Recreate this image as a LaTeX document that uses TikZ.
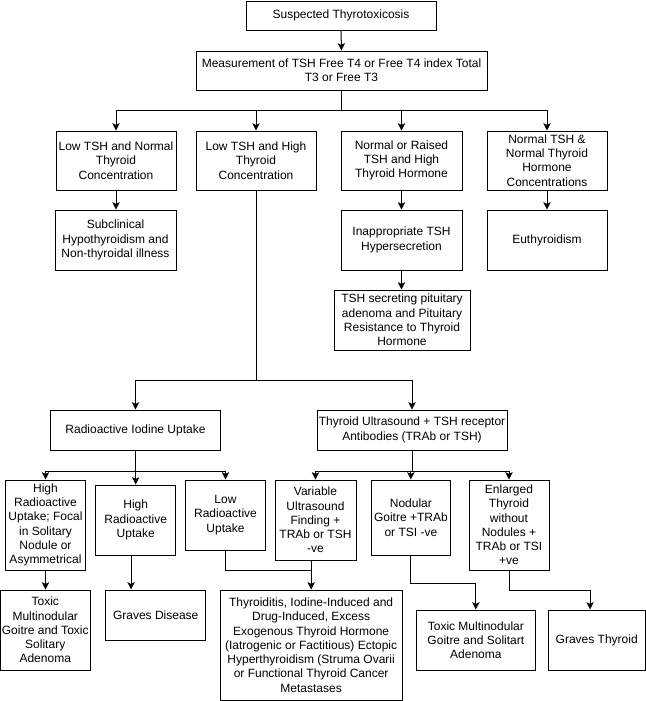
\documentclass[tikz,border=0pt]{standalone}
\usepackage{fontspec}
\setmainfont{Liberation Sans}
\usetikzlibrary{arrows.meta}
\newcommand\mybx[6]{\node[box, minimum width={(#4-#2)*0.75pt}, minimum height={(#5-#3)*0.75pt}] (#1) at ({(#2+#4)/2},{(#3+#5)/2}) {#6};}
\begin{document}
\begin{tikzpicture}[x=0.75pt,y=-0.75pt,
  box/.style={draw, line width=0.75pt, inner sep=0pt, align=center,
    font=\fontsize{9}{10.7}\selectfont},
  arr/.style={draw, line width=0.75pt, -{Stealth[length=5.5pt,width=5.5pt,inset=1.3pt]}},
  ln/.style={draw, line width=0.75pt}]
\useasboundingbox (0,0) rectangle (646,701);
% boxes
\mybx{S}{246}{1}{436}{30}{Suspected Thyrotoxicosis}
\mybx{M}{196}{51}{487}{90}{Measurement of TSH Free T4 or Free T4 index Total\\T3 or Free T3}
\mybx{R1}{56}{131}{176}{190}{Low TSH and Normal\\Thyroid\\Concentration}
\mybx{R2}{196}{131}{316}{190}{Low TSH and High\\Thyroid\\Concentration}
\mybx{R3}{341}{131}{462}{190}{Normal or Raised\\TSH and High\\Thyroid Hormone}
\mybx{R4}{487}{131}{607}{190}{Normal TSH \&\\Normal Thyroid\\Hormone\\Concentrations}
\mybx{Sub}{55}{210}{176}{270}{Subclinical\\Hypothyroidism and\\Non-thyroidal illness}
\mybx{Inap}{341}{210}{462}{270}{Inappropriate TSH\\Hypersecretion}
\mybx{Eu}{487}{210}{607}{270}{Euthyroidism}
\mybx{T}{334}{290}{470}{350}{TSH secreting pituitary\\adenoma and Pituitary\\Resistance to Thyroid\\Hormone}
\mybx{RAI}{50.7}{410}{220.3}{450}{Radioactive Iodine Uptake}
\mybx{US}{317}{410}{507}{450}{Thyroid Ultrasound + TSH receptor\\Antibodies (TRAb or TSH)}
\mybx{A}{5.7}{480}{85.3}{570}{High\\Radioactive\\Uptake; Focal\\in Solitary\\Nodule or\\Asymmetrical}
\mybx{B}{95.7}{485}{175.7}{555}{High\\Radioactive\\Uptake}
\mybx{C}{185.3}{480}{265.7}{550}{Low\\Radioactive\\Uptake}
\mybx{D}{275}{480}{356}{560}{Variable\\Ultrasound\\Finding +\\TRAb or TSH\\-ve}
\mybx{E}{371}{480}{450.7}{555}{Nodular\\Goitre +TRAb\\or TSI -ve}
\mybx{F}{469}{480}{549}{570}{Enlarged\\Thyroid\\without\\Nodules +\\TRAb or TSI\\+ve}
\mybx{G}{0.5}{590}{90}{670}{Toxic\\Multinodular\\Goitre and Toxic\\Solitary\\Adenoma}
\mybx{H}{105.7}{590}{205.7}{640}{Graves Disease}
\mybx{I}{220.3}{590}{402}{700}{Thyroiditis, Iodine-Induced and\\Drug-Induced, Excess\\Exogenous Thyroid Hormone\\(Iatrogenic or Factitious) Ectopic\\Hyperthyroidism (Struma Ovarii\\or Functional Thyroid Cancer\\Metastases}
\mybx{J}{416}{610}{535.7}{670}{Toxic Multinodular\\Goitre and Solitart\\Adenoma}
\mybx{K}{548}{610}{645.5}{670}{Graves Thyroid}
% junctions
\coordinate (j1) at (341.5,110);
\coordinate (j2) at (256,380);
\coordinate (j3) at (135.5,471.7);
\coordinate (j4) at (412,471.7);
\coordinate (k1) at (311,570);
% connectors
\draw[arr] (S.south) -- (M.north);
\draw[ln] (M.south) -- (j1);
\foreach \n in {R1,R2,R3,R4} \draw[arr] (j1) -| (\n.north);
\draw[arr] (R1.south) -- (R1.south |- Sub.north);
\draw[arr] (R3.south) -- (R3.south |- Inap.north);
\draw[arr] (R4.south) -- (R4.south |- Eu.north);
\draw[arr] (Inap.south) -- (Inap.south |- T.north);
\draw[ln] (R2.south) -- (j2);
\draw[arr] (j2) -| (RAI.north);
\draw[arr] (j2) -| (US.north);
\draw[ln] (RAI.south) -- (j3);
\foreach \n in {A,B,C} \draw[arr] (j3) -| (\n.north);
\draw[ln] (US.south) -- (j4);
\foreach \n in {D,E,F} \draw[arr] (j4) -| (\n.north);
\draw[arr] (A.south) -- (A.south |- G.north);
\draw[arr] ([xshift=-3.5pt]B.south) -- ([xshift=-3.5pt]B.south |- H.north);
\draw[ln] (C.south) |- (k1);
\draw[arr] (D.south -| I.north) -- (I.north);
\draw[arr] (E.south) -- ++(0,28) -| (J.north);
\draw[arr] (F.south) -- ++(0,20) -| ([xshift=-5pt]K.north);
\end{tikzpicture}
\end{document}
